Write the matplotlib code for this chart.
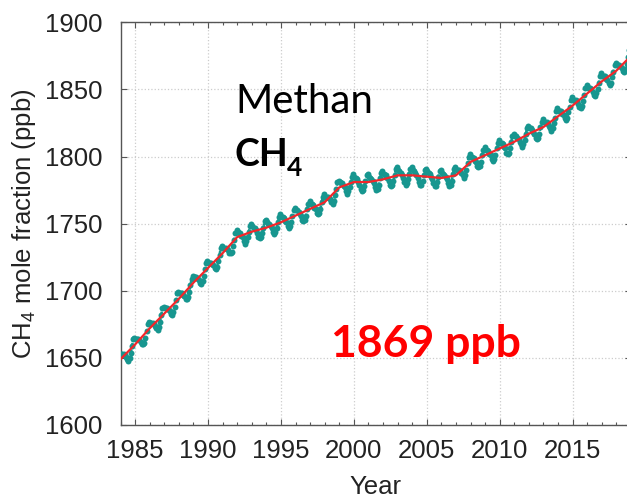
import numpy as np
import matplotlib
matplotlib.use("Agg")
import matplotlib.pyplot as plt
from matplotlib.ticker import MultipleLocator

plt.rcParams['font.family'] = ['Liberation Sans', 'DejaVu Sans']
plt.rcParams['mathtext.fontset'] = 'custom'
plt.rcParams['mathtext.rm'] = 'Liberation Sans'
plt.rcParams['mathtext.it'] = 'Liberation Sans:italic'

# Monthly mean CH4 mole fraction (ppb), one row per year, Jan..Dec
years = list(range(1984, 2019))
monthly_ch4 = [
    [1653, 1653, 1653, 1652, 1651, 1649, 1648, 1650, 1654, 1659, 1664, 1665],  # 1984
    [1664, 1664, 1664, 1663, 1662, 1660, 1660, 1661, 1665, 1670, 1675, 1677],  # 1985
    [1676, 1676, 1676, 1675, 1674, 1672, 1671, 1673, 1677, 1682, 1687, 1688],  # 1986
    [1687, 1687, 1687, 1686, 1685, 1683, 1682, 1684, 1688, 1693, 1698, 1699],  # 1987
    [1698, 1698, 1698, 1697, 1696, 1694, 1694, 1695, 1699, 1704, 1709, 1711],  # 1988
    [1710, 1710, 1710, 1709, 1708, 1706, 1705, 1707, 1711, 1716, 1721, 1722],  # 1989
    [1721, 1721, 1721, 1720, 1719, 1717, 1716, 1718, 1722, 1727, 1732, 1733],  # 1990
    [1732, 1732, 1732, 1731, 1730, 1728, 1728, 1729, 1733, 1738, 1743, 1745],  # 1991
    [1744, 1743, 1743, 1741, 1740, 1737, 1735, 1737, 1740, 1744, 1748, 1750],  # 1992
    [1748, 1747, 1747, 1745, 1743, 1740, 1739, 1740, 1743, 1747, 1752, 1753],  # 1993
    [1751, 1750, 1750, 1748, 1747, 1744, 1742, 1744, 1747, 1751, 1755, 1757],  # 1994
    [1755, 1755, 1754, 1752, 1751, 1748, 1747, 1748, 1751, 1756, 1760, 1762],  # 1995
    [1760, 1760, 1759, 1757, 1756, 1753, 1752, 1753, 1756, 1761, 1765, 1767],  # 1996
    [1765, 1765, 1764, 1762, 1761, 1758, 1757, 1758, 1761, 1766, 1770, 1772],  # 1997
    [1770, 1770, 1770, 1769, 1768, 1766, 1765, 1767, 1771, 1776, 1781, 1782],  # 1998
    [1781, 1780, 1780, 1778, 1777, 1774, 1772, 1774, 1777, 1781, 1785, 1787],  # 1999
    [1785, 1784, 1783, 1781, 1779, 1776, 1774, 1775, 1778, 1782, 1786, 1787],  # 2000
    [1785, 1784, 1783, 1782, 1780, 1777, 1775, 1776, 1779, 1784, 1788, 1789],  # 2001
    [1787, 1786, 1786, 1784, 1782, 1779, 1778, 1779, 1782, 1786, 1791, 1792],  # 2002
    [1790, 1789, 1788, 1786, 1784, 1781, 1779, 1780, 1783, 1787, 1791, 1792],  # 2003
    [1790, 1789, 1788, 1786, 1784, 1781, 1779, 1779, 1782, 1786, 1790, 1791],  # 2004
    [1789, 1788, 1787, 1785, 1783, 1780, 1778, 1778, 1781, 1785, 1789, 1790],  # 2005
    [1788, 1787, 1786, 1785, 1783, 1780, 1778, 1779, 1782, 1787, 1791, 1792],  # 2006
    [1790, 1790, 1790, 1789, 1788, 1786, 1784, 1786, 1790, 1795, 1800, 1802],  # 2007
    [1800, 1800, 1799, 1797, 1796, 1793, 1792, 1793, 1796, 1801, 1805, 1807],  # 2008
    [1805, 1805, 1804, 1802, 1801, 1798, 1797, 1798, 1801, 1806, 1810, 1812],  # 2009
    [1810, 1810, 1809, 1807, 1806, 1803, 1802, 1803, 1806, 1811, 1815, 1817],  # 2010
    [1815, 1815, 1814, 1813, 1811, 1809, 1807, 1809, 1812, 1817, 1821, 1823],  # 2011
    [1821, 1821, 1820, 1818, 1817, 1814, 1813, 1814, 1817, 1822, 1826, 1828],  # 2012
    [1826, 1826, 1826, 1824, 1823, 1821, 1819, 1821, 1825, 1829, 1834, 1836],  # 2013
    [1834, 1834, 1834, 1832, 1831, 1829, 1827, 1829, 1833, 1837, 1842, 1844],  # 2014
    [1842, 1842, 1842, 1841, 1839, 1837, 1836, 1838, 1841, 1846, 1851, 1853],  # 2015
    [1851, 1851, 1851, 1850, 1848, 1846, 1845, 1847, 1850, 1855, 1860, 1862],  # 2016
    [1860, 1860, 1860, 1858, 1857, 1855, 1853, 1855, 1859, 1863, 1868, 1870],  # 2017
    [1868, 1868, 1868, 1867, 1866, 1864, 1863, 1865, 1869, 1874, 1879, 1880],  # 2018
]

# Deseasonalized trend (ppb) at the start of each year
trend_years = list(range(1984, 2020))
trend_ch4 = [1649, 1660, 1672, 1683, 1694, 1706, 1717, 1728, 1740, 1744,
             1747, 1751, 1756, 1761, 1766, 1777, 1781, 1781, 1783, 1786,
             1786, 1785, 1784, 1786, 1796, 1801, 1806, 1811, 1817, 1822,
             1830, 1838, 1847, 1856, 1864, 1875]

x_ticks = [1985, 1990, 1995, 2000, 2005, 2010, 2015]
y_ticks = [1600, 1650, 1700, 1750, 1800, 1850, 1900]

# Decimal-year time axis for the monthly means
t = np.array([y + (m + 0.5) / 12 for y in years for m in range(12)])
v = np.array(monthly_ch4).ravel()

W, H = 627, 500
fig = plt.figure(figsize=(W / 100, H / 100), dpi=100)
left, right, top, bottom = 120.5, 631.0, 22.3, 425.0
ax = fig.add_axes([left / W, 1 - bottom / H, (right - left) / W, (bottom - top) / H])

teal = '#17968f'
ax.plot(t, v, color=teal, lw=1.8, ls=':', marker='o', ms=4.3, mew=0, zorder=3)
ax.plot(trend_years, trend_ch4, color='#f2262a', lw=1.6, zorder=4)

ax.set_xlim(1984, 2019)
ax.set_ylim(1600, 1900)
ax.set_xticks(x_ticks)
ax.set_yticks(y_ticks)
ax.xaxis.set_minor_locator(MultipleLocator(1))

ax.grid(True, which='major', ls=':', color='#cccccc', lw=0.9)
ax.set_axisbelow(True)

for s in ax.spines.values():
    s.set_color('#555555')
    s.set_linewidth(1.0)

ax.tick_params(which='both', direction='in', top=True, right=True,
               colors='#555555', labelcolor='#222222')
ax.tick_params(which='major', length=4.5, width=0.8, labelsize=18.5)
ax.tick_params(which='minor', length=2.5, width=0.8)
ax.tick_params(axis='y', which='major', pad=13)
ax.tick_params(axis='x', which='major', pad=10)

ax.set_xlabel('Year', fontsize=18.5, color='#222222')
ax.set_ylabel('CH$_4$ mole fraction (ppb)', fontsize=18.5, color='#222222')
ax.xaxis.set_label_coords((375.5 - left) / (right - left), -(475 - bottom) / (bottom - top))
ax.xaxis.label.set_va('top')
ax.yaxis.set_label_coords((38 - left) / (right - left), 0.5)


def px(x, y):
    return x / W, 1 - y / H


fig.text(*px(235, 113), 'Methan', family='Lato', fontsize=29, color='black',
         ha='left', va='baseline')
fig.text(*px(234, 166), 'CH', family='Lato', fontweight='bold', fontsize=27,
         color='black', ha='left', va='baseline')
fig.text(*px(287, 176), '4', family='Lato', fontweight='bold', fontsize=19,
         color='black', ha='left', va='baseline')
fig.text(*px(331, 357), '1869 ppb', family='Lato', fontweight='bold',
         fontsize=32, color='#ff0000', ha='left', va='baseline')

fig.savefig('out.png', dpi=100)
